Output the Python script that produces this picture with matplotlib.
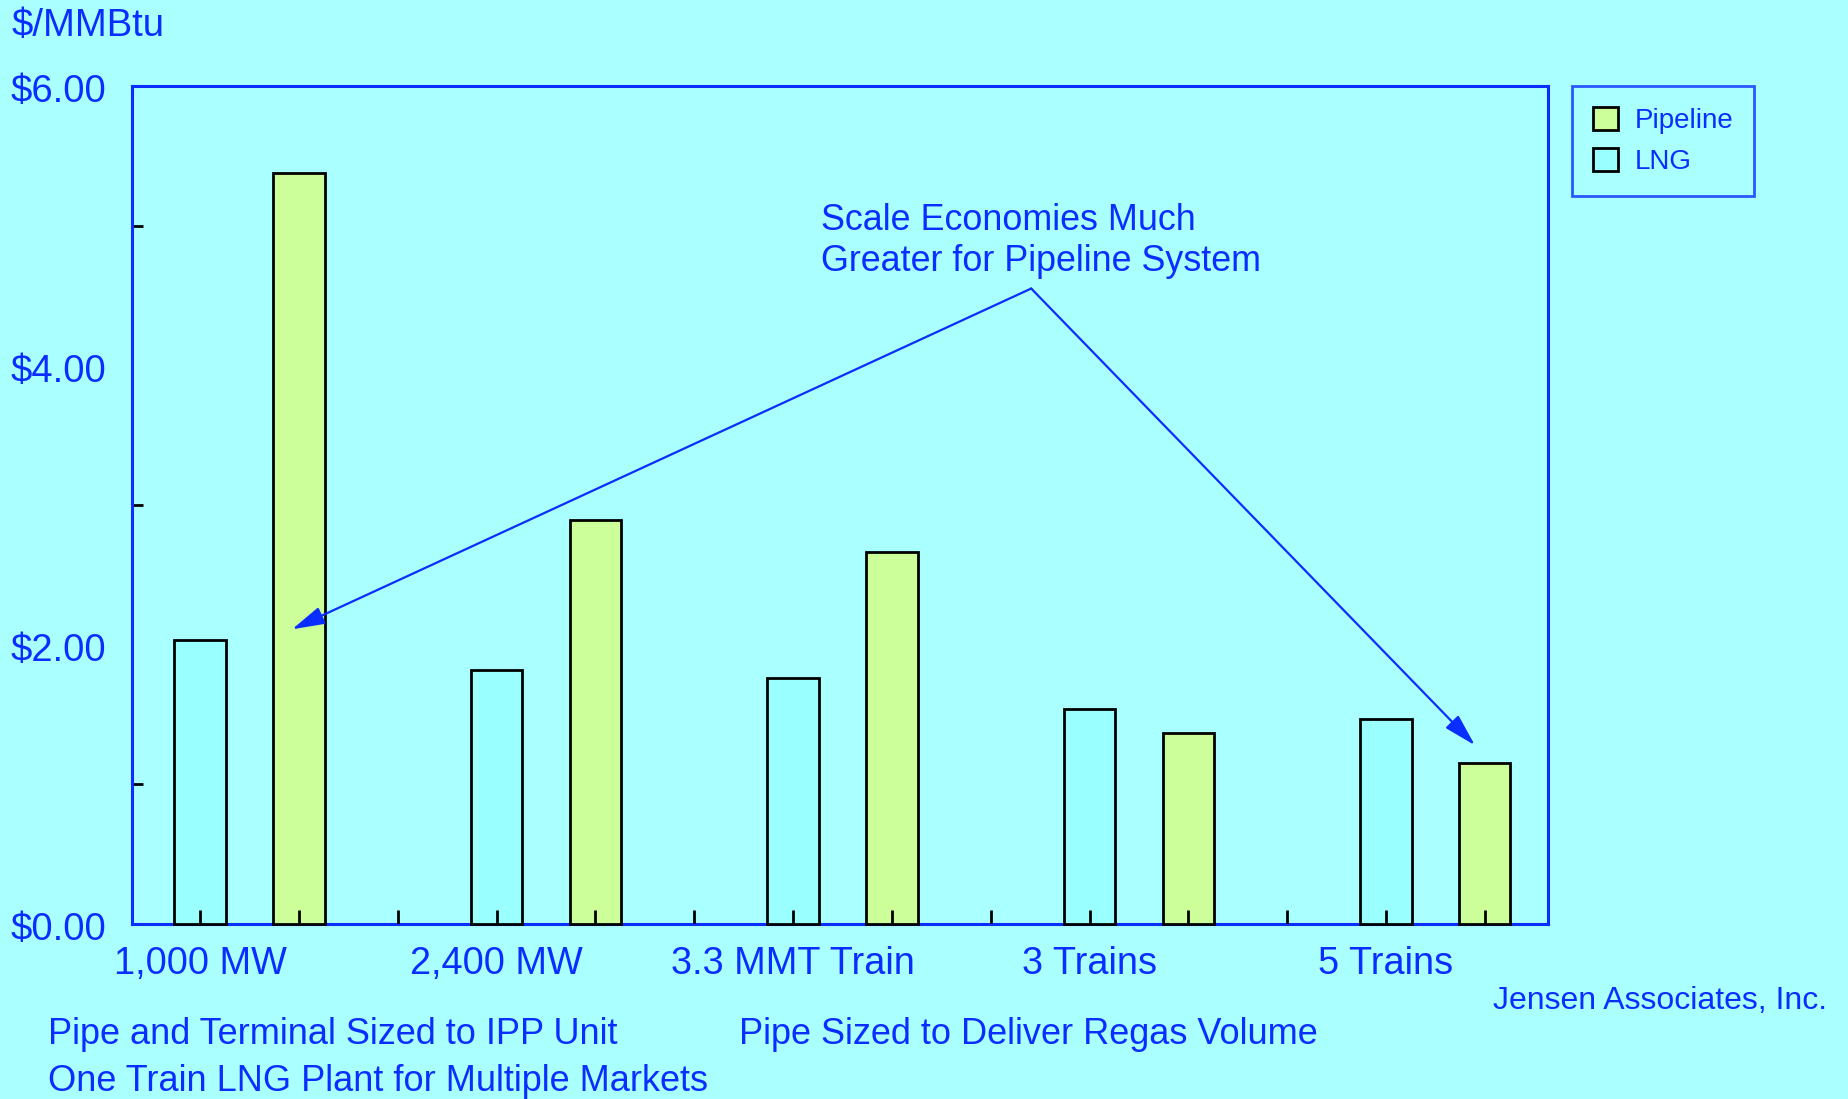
import matplotlib
matplotlib.use("Agg")
import matplotlib.pyplot as plt
from matplotlib.patches import Patch
from matplotlib.transforms import blended_transform_factory

categories = ["1,000 MW", "2,400 MW", "3.3 MMT Train", "3 Trains", "5 Trains"]
lng = [2.03, 1.82, 1.76, 1.54, 1.47]
pipeline = [5.38, 2.89, 2.66, 1.37, 1.15]
y_ticks = [0, 2, 4, 6]
y_ticklabels = ["$0.00", "$2.00", "$4.00", "$6.00"]

BG = "#AAFFFF"
BLUE = "#0A2EFF"
LNG_C = "#99FFFF"
PIPE_C = "#CCFF99"

plt.rcParams["font.family"] = ["Liberation Sans", "DejaVu Sans"]

fig = plt.figure(figsize=(18.49, 10.99), dpi=100, facecolor=BG)
W, H = 1849, 1099
l, r, t, b = 132, 1548, 86, 924
ax = fig.add_axes([l / W, 1 - b / H, (r - l) / W, (b - t) / H], facecolor=BG)

n = len(categories)
x_lng = [3 * i for i in range(n)]
x_pipe = [3 * i + 1 for i in range(n)]
bw = 0.52
ax.bar(x_lng, lng, width=bw, color=LNG_C, edgecolor="black", linewidth=2, zorder=3, clip_on=False)
ax.bar(x_pipe, pipeline, width=bw, color=PIPE_C, edgecolor="black", linewidth=2, zorder=3, clip_on=False)

ax.set_xlim(-0.69, 13.64)
ax.set_ylim(0, 6)
for s in ax.spines.values():
    s.set_color(BLUE)
    s.set_linewidth(2.2)
    s.set_zorder(2)

# x ticks drawn inside, black
ax.set_xticks([])
for k in range(14):
    ax.plot([k, k], [0, 0.1], color="black", lw=2, zorder=4, solid_capstyle="butt")

# y labels (left aligned at figure edge) and minor inward ticks
ax.set_yticks([])
ax.set_yticks([1, 3, 5], minor=True)
ax.tick_params(axis="y", which="minor", direction="in", length=8, width=2, color="black", labelleft=False)
tr = blended_transform_factory(fig.transFigure, ax.transData)
for yv, lab in zip(y_ticks, y_ticklabels):
    ax.text(11 / W, yv - 0.045, lab, transform=tr, fontsize=27.5, color=BLUE, ha="left", va="center")

for xi, c in zip(x_lng, categories):
    ax.text(xi, -0.16, c, ha="center", va="top", fontsize=27.3, color=BLUE)

fig.text(10 / 1568, 1 - 22 / 932, "$/MMBtu", fontsize=27.5, color=BLUE, va="center", ha="left")
fig.text(41 / 1568, 1 - 877 / 932, "Pipe and Terminal Sized to IPP Unit", fontsize=26, color=BLUE, va="center", ha="left")
fig.text(41 / 1568, 1 - 917 / 932, "One Train LNG Plant for Multiple Markets", fontsize=26, color=BLUE, va="center", ha="left")
fig.text(627 / 1568, 1 - 877 / 932, "Pipe Sized to Deliver Regas Volume", fontsize=26, color=BLUE, va="center", ha="left")
fig.text(1549 / 1568, 1 - 849 / 932, "Jensen Associates, Inc.", fontsize=23, color=BLUE, va="center", ha="right")

ax.text(6.28, 5.04, "Scale Economies Much", fontsize=25.8, color=BLUE, va="center", ha="left")
ax.text(6.28, 4.74, "Greater for Pipeline System", fontsize=25.8, color=BLUE, va="center", ha="left")

start = (8.41, 4.55)
for end in [(0.93, 2.11), (12.90, 1.28)]:
    ax.annotate("", xy=end, xytext=start,
                arrowprops=dict(arrowstyle="-|>,head_length=2.0,head_width=0.55", color=BLUE, lw=1.6,
                                shrinkA=0, shrinkB=0), zorder=5)

handles = [Patch(facecolor=PIPE_C, edgecolor="black", linewidth=2, label="Pipeline"),
           Patch(facecolor=LNG_C, edgecolor="black", linewidth=2, label="LNG")]
leg = fig.legend(handles=handles, loc="upper left", bbox_to_anchor=(1572 / W, 1 - 86 / H),
                 fontsize=20, frameon=True, fancybox=False, edgecolor=BLUE, facecolor=BG,
                 handlelength=0.9, handleheight=0.9, handletextpad=0.6, labelspacing=0.5,
                 borderpad=0.75, borderaxespad=0)
leg.get_frame().set_linewidth(2)
for tx in leg.get_texts():
    tx.set_color(BLUE)

fig.savefig("out.png", dpi=100, facecolor=BG)
